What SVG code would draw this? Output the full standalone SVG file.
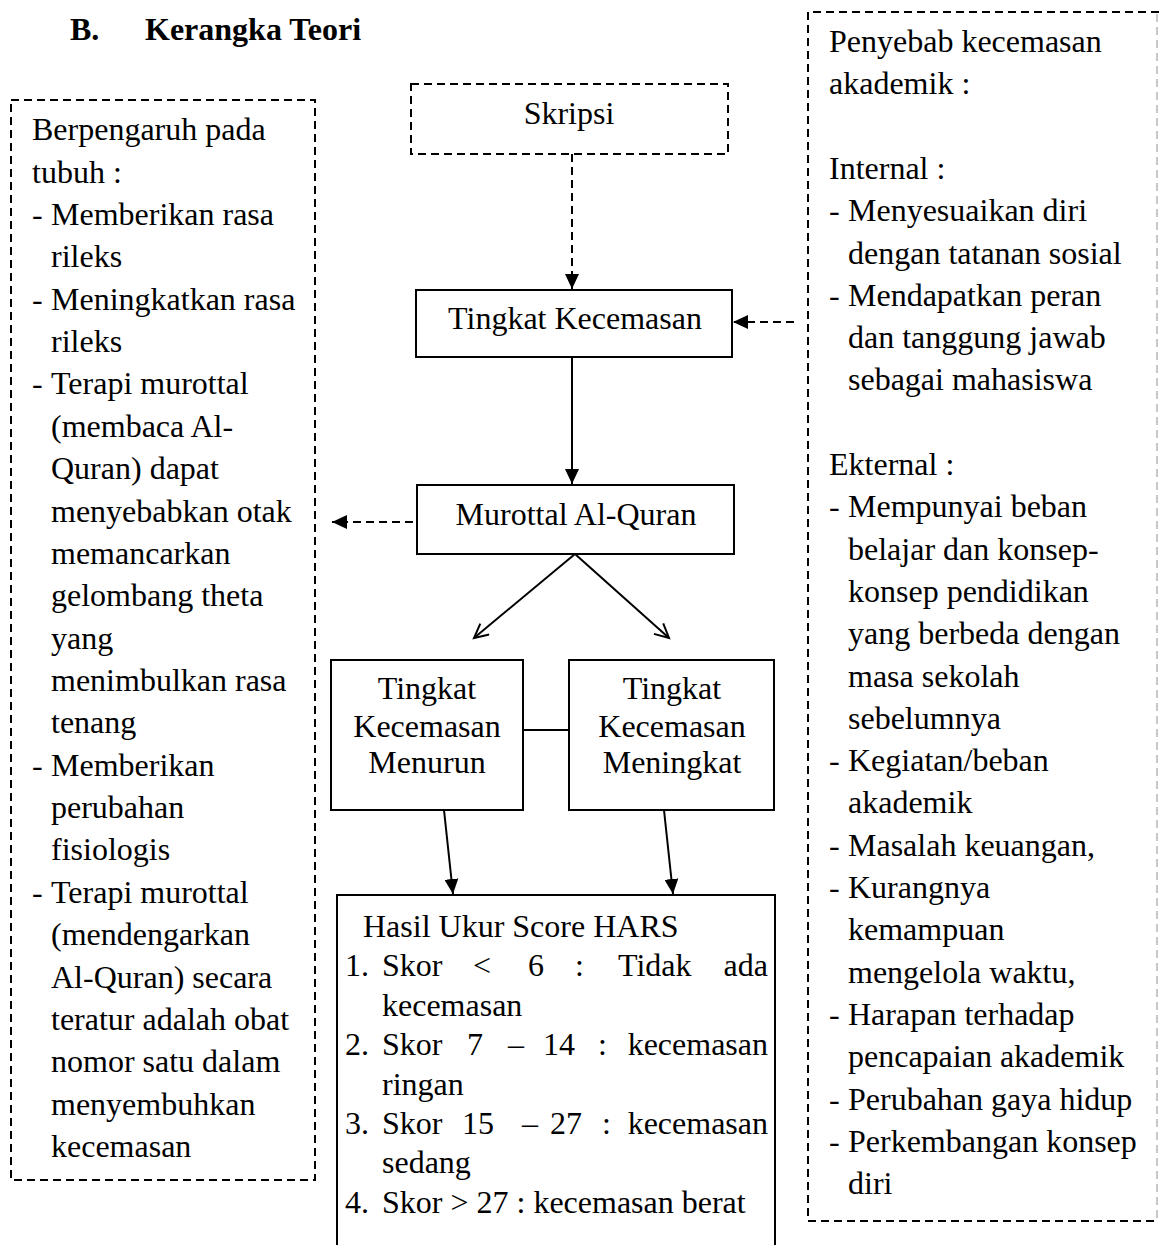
<svg xmlns="http://www.w3.org/2000/svg" width="1159" height="1245" viewBox="0 0 1159 1245">
<style>
text{font-family:"Liberation Serif","Times New Roman",serif;font-size:32px;fill:#000}
.title{font-weight:bold}
.c{text-anchor:middle}
.solid{fill:none;stroke:#000;stroke-width:2}
.dash{fill:none;stroke:#000;stroke-width:2;stroke-dasharray:8 5}
.faint{fill:none;stroke:#c8c8c8;stroke-width:2;stroke-dasharray:8 5}
</style>
<defs>
<marker id="fill" markerUnits="userSpaceOnUse" markerWidth="16" markerHeight="14" refX="15" refY="7" orient="auto">
<path d="M0,0 L15,7 L0,14 z" fill="#000"/>
</marker>
<marker id="open" markerUnits="userSpaceOnUse" markerWidth="18" markerHeight="18" refX="15" refY="8" orient="auto">
<path d="M1,1 L15,8 L1,15" fill="none" stroke="#000" stroke-width="2"/>
</marker>
</defs>
<rect width="1159" height="1245" fill="#fff"/>
<g id="title">
<text class="title" x="70" y="40">B.</text>
<text class="title" x="145" y="40">Kerangka Teori</text>
</g>
<g id="left-box">
<rect class="dash" x="11" y="100" width="304" height="1080"/>
<text x="32" y="140">Berpengaruh pada</text>
<text x="32" y="182.7">tubuh :</text>
<text x="32" y="225">-</text><text x="51" y="225">Memberikan rasa</text>
<text x="51" y="267.4">rileks</text>
<text x="32" y="309.7">-</text><text x="51" y="309.7">Meningkatkan rasa</text>
<text x="51" y="352.1">rileks</text>
<text x="32" y="394.4">-</text><text x="51" y="394.4">Terapi murottal</text>
<text x="51" y="436.8">(membaca Al-</text>
<text x="51" y="479.2">Quran) dapat</text>
<text x="51" y="521.5">menyebabkan otak</text>
<text x="51" y="563.9">memancarkan</text>
<text x="51" y="606.2">gelombang theta</text>
<text x="51" y="648.6">yang</text>
<text x="51" y="691">menimbulkan rasa</text>
<text x="51" y="733.3">tenang</text>
<text x="32" y="775.7">-</text><text x="51" y="775.7">Memberikan</text>
<text x="51" y="818">perubahan</text>
<text x="51" y="860.4">fisiologis</text>
<text x="32" y="902.8">-</text><text x="51" y="902.8">Terapi murottal</text>
<text x="51" y="945.1">(mendengarkan</text>
<text x="51" y="987.5">Al-Quran) secara</text>
<text x="51" y="1029.8">teratur adalah obat</text>
<text x="51" y="1072.2">nomor satu dalam</text>
<text x="51" y="1114.6">menyembuhkan</text>
<text x="51" y="1157">kecemasan</text>
</g>
<g id="right-box">
<path class="dash" d="M1159,12 L808,12 L808,1221 L1159,1221"/>
<line class="faint" x1="1157" y1="14" x2="1157" y2="1219"/>
<text x="829" y="52">Penyebab kecemasan</text>
<text x="829" y="94.3">akademik :</text>
<text x="829" y="178.9">Internal :</text>
<text x="829" y="221.2">-</text><text x="848" y="221.2">Menyesuaikan diri</text>
<text x="848" y="263.5">dengan tatanan sosial</text>
<text x="829" y="305.8">-</text><text x="848" y="305.8">Mendapatkan peran</text>
<text x="848" y="348.1">dan tanggung jawab</text>
<text x="848" y="390.4">sebagai mahasiswa</text>
<text x="829" y="475">Ekternal :</text>
<text x="829" y="517.3">-</text><text x="848" y="517.3">Mempunyai beban</text>
<text x="848" y="559.6">belajar dan konsep-</text>
<text x="848" y="601.9">konsep pendidikan</text>
<text x="848" y="644.2">yang berbeda dengan</text>
<text x="848" y="686.5">masa sekolah</text>
<text x="848" y="728.8">sebelumnya</text>
<text x="829" y="771.1">-</text><text x="848" y="771.1">Kegiatan/beban</text>
<text x="848" y="813.4">akademik</text>
<text x="829" y="855.7">-</text><text x="848" y="855.7">Masalah keuangan,</text>
<text x="829" y="898">-</text><text x="848" y="898">Kurangnya</text>
<text x="848" y="940.3">kemampuan</text>
<text x="848" y="982.6">mengelola waktu,</text>
<text x="829" y="1024.9">-</text><text x="848" y="1024.9">Harapan terhadap</text>
<text x="848" y="1067.2">pencapaian akademik</text>
<text x="829" y="1109.5">-</text><text x="848" y="1109.5">Perubahan gaya hidup</text>
<text x="829" y="1151.8">-</text><text x="848" y="1151.8">Perkembangan konsep</text>
<text x="848" y="1194.1">diri</text>
</g>
<g id="skripsi">
<rect class="dash" x="411" y="84" width="317" height="70"/>
<text class="c" x="569" y="124">Skripsi</text>
</g>
<g id="tingkat-kecemasan">
<rect class="solid" x="416" y="290" width="316" height="67"/>
<text class="c" x="575" y="329">Tingkat Kecemasan</text>
</g>
<g id="murottal">
<rect class="solid" x="417" y="485" width="317" height="69"/>
<text class="c" x="576" y="525">Murottal Al-Quran</text>
</g>
<g id="menurun">
<rect class="solid" x="331" y="660" width="192" height="150"/>
<text class="c" x="427" y="699">Tingkat</text>
<text class="c" x="427" y="737">Kecemasan</text>
<text class="c" x="427" y="773">Menurun</text>
</g>
<g id="meningkat">
<rect class="solid" x="569" y="660" width="205" height="150"/>
<text class="c" x="672" y="699">Tingkat</text>
<text class="c" x="672" y="737">Kecemasan</text>
<text class="c" x="672" y="773">Meningkat</text>
</g>
<g id="hars">
<path class="solid" d="M337,1246 L337,895 L775,895 L775,1246"/>
<text x="363" y="937">Hasil Ukur Score HARS</text>
<text x="345" y="976.4">1.</text>
<text x="382" y="976.4">Skor</text><text x="473" y="976.4">&lt;</text><text x="528" y="976.4">6</text><text x="575" y="976.4">:</text><text x="618" y="976.4">Tidak</text><text x="768" y="976.4" text-anchor="end">ada</text>
<text x="382" y="1015.8">kecemasan</text>
<text x="345" y="1055.2">2.</text>
<text x="382" y="1055.2">Skor</text><text x="467" y="1055.2">7</text><text x="508" y="1055.2">–</text><text x="543" y="1055.2">14</text><text x="598" y="1055.2">:</text><text x="768" y="1055.2" text-anchor="end">kecemasan</text>
<text x="382" y="1094.6">ringan</text>
<text x="345" y="1134">3.</text>
<text x="382" y="1134">Skor</text><text x="462" y="1134">15</text><text x="522" y="1134">–</text><text x="550" y="1134">27</text><text x="602" y="1134">:</text><text x="768" y="1134" text-anchor="end">kecemasan</text>
<text x="382" y="1173.4">sedang</text>
<text x="345" y="1212.8">4.</text>
<text x="382" y="1212.8">Skor &gt; 27 : kecemasan berat</text>
</g>
<g id="connectors">
<line class="dash" x1="572" y1="154" x2="572" y2="289" marker-end="url(#fill)"/>
<line class="dash" x1="794" y1="322" x2="733" y2="322" marker-end="url(#fill)"/>
<line class="dash" x1="413" y1="522" x2="332" y2="522" marker-end="url(#fill)"/>
<line class="solid" x1="572" y1="357" x2="572" y2="484" marker-end="url(#fill)"/>
<line class="solid" x1="575" y1="554" x2="474" y2="638" marker-end="url(#open)"/>
<line class="solid" x1="575" y1="554" x2="669" y2="638" marker-end="url(#open)"/>
<line class="solid" x1="523" y1="730" x2="569" y2="730"/>
<line class="solid" x1="444" y1="810" x2="453" y2="894" marker-end="url(#fill)"/>
<line class="solid" x1="664" y1="810" x2="673" y2="894" marker-end="url(#fill)"/>
</g>
</svg>
